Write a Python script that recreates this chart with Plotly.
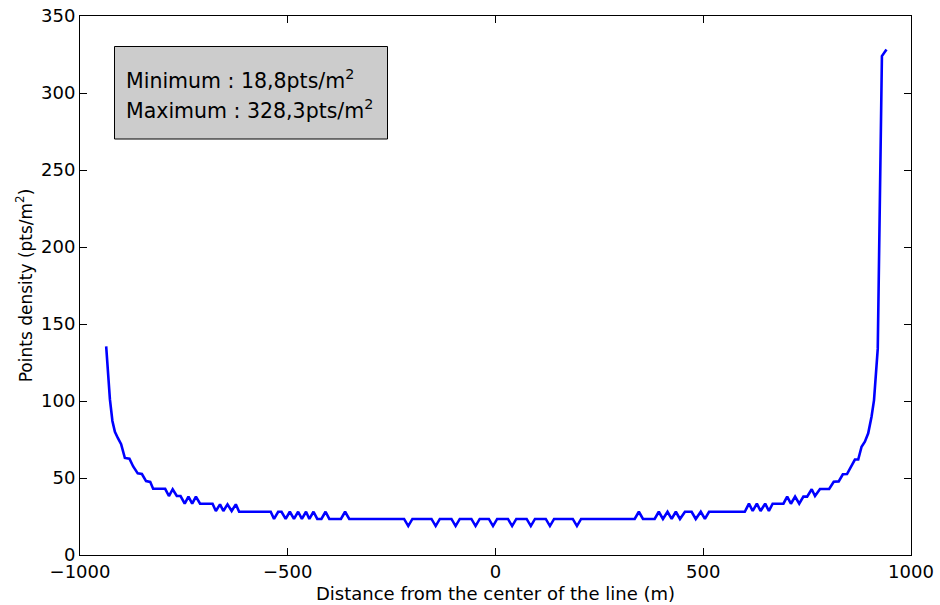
import plotly.graph_objects as go

# Distance from the center of the line (m) -- vertices
distance_m = [
    -937, -932, -928, -922, -916, -909, -901, -892, -881, -872,
    -861, -851, -841, -831, -824, -795, -786, -777, -767, -758,
    -748, -739, -730, -721, -711, -681, -673, -663, -655, -645,
    -635, -625, -617, -541, -533, -523, -515, -505, -495, -485,
    -475, -466, -456, -448, -438, -429, -419, -409, -400, -372,
    -362, -352, -220, -210, -200, -154, -144, -134, -106, -96,
    -86, -58, -48, -38, -16, -6, 4, 30, 40, 50,
    75, 85, 95, 121, 131, 141, 186, 196, 206, 335,
    345, 355, 383, 393, 403, 414, 424, 434, 444, 456,
    472, 482, 494, 504, 514, 600, 610, 619, 629, 638,
    649, 658, 667, 693, 702, 711, 721, 731, 741, 750,
    761, 769, 781, 803, 814, 826, 836, 846, 855, 865,
    873, 881, 889, 897, 905, 911, 920, 930, 941,
]

# Points density (pts/m2)
density = [
    135.5, 118, 101, 87, 80, 76, 72, 63, 62.5, 57.5,
    53, 52.6, 48, 47.5, 43, 43, 38.3, 42.7, 38.3, 38.3,
    33.3, 37.9, 33.3, 37.9, 33.3, 33.3, 28.6, 32.9, 28.6, 32.9,
    28.6, 32.9, 28.1, 28.1, 23.4, 28.1, 28.1, 23.4, 28.1, 23.4,
    28.1, 23.4, 28.1, 23.4, 28.1, 23.4, 23.4, 28.1, 23.4, 23.4,
    28.1, 23.4, 23.4, 18.8, 23.4, 23.4, 18.8, 23.4, 23.4, 18.8,
    23.4, 23.4, 18.8, 23.4, 23.4, 18.8, 23.4, 23.4, 18.8, 23.4,
    23.4, 18.8, 23.4, 23.4, 18.8, 23.4, 23.4, 18.8, 23.4, 23.4,
    28.1, 23.4, 23.4, 28.1, 23.4, 28.1, 23.4, 28.1, 23.4, 28.1,
    28.1, 23.4, 28.1, 23.4, 28.1, 28.1, 33.3, 28.6, 33.3, 28.6,
    33.3, 28.6, 33.3, 33.3, 37.9, 33.3, 37.9, 33.3, 37.9, 37.9,
    42.7, 38.3, 42.9, 42.9, 47.6, 47.8, 52.4, 52.6, 57.4, 62,
    62, 70.3, 73.6, 79, 89.8, 100.6, 134, 324, 328.3,
]

x_ticks = [-1000, -500, 0, 500, 1000]
y_ticks = [0, 50, 100, 150, 200, 250, 300, 350]
stats_lines = ["Minimum : 18,8pts/m<sup>2</sup>", "Maximum : 328,3pts/m<sup>2</sup>"]

W, H = 940, 605
L, R, T, B = 80, 29, 16, 50
pw, ph = W - L - R, H - T - B

def px_x(p):
    return (p - L) / pw

def px_y(p):
    return (H - B - p) / ph

FONT = "DejaVu Sans"

fig = go.Figure()
fig.add_trace(go.Scatter(
    x=distance_m, y=density, mode="lines",
    line=dict(color="#0000ff", width=2.6),
    showlegend=False, hoverinfo="skip",
))

axis_common = dict(
    showgrid=False, zeroline=False, showline=True, linecolor="black", linewidth=1,
    mirror="ticks", ticks="inside", ticklen=7, tickwidth=1, tickcolor="black",
    tickfont=dict(family=FONT, size=18, color="black"),
)

fig.update_xaxes(
    range=[-1000, 1000], tickvals=x_ticks,
    title=dict(text="Distance from the center of the line (m)",
               font=dict(family=FONT, size=18, color="black"), standoff=6),
    automargin=False, **axis_common,
)
fig.update_yaxes(
    range=[0, 350], tickvals=y_ticks,
    title=dict(text="Points density (pts/m<sup>2</sup>)",
               font=dict(family=FONT, size=17, color="black"), standoff=4),
    automargin=False, **axis_common,
)

fig.add_shape(type="rect", xref="paper", yref="paper",
              x0=px_x(114.5), x1=px_x(387.5), y0=px_y(139), y1=px_y(46.5),
              fillcolor="#cccccc", line=dict(color="black", width=1), layer="above")

for i, txt in enumerate(stats_lines):
    fig.add_annotation(xref="paper", yref="paper", x=px_x(124), y=px_y(79 + 30 * i),
                       xanchor="left", yanchor="middle", showarrow=False, text=txt,
                       font=dict(family=FONT, size=20.5, color="black"))

fig.update_layout(
    width=W, height=H,
    margin=dict(l=L, r=R, t=T, b=B, pad=0),
    paper_bgcolor="white", plot_bgcolor="white",
    font=dict(family=FONT, color="black"),
)

fig.write_html("out.html")
